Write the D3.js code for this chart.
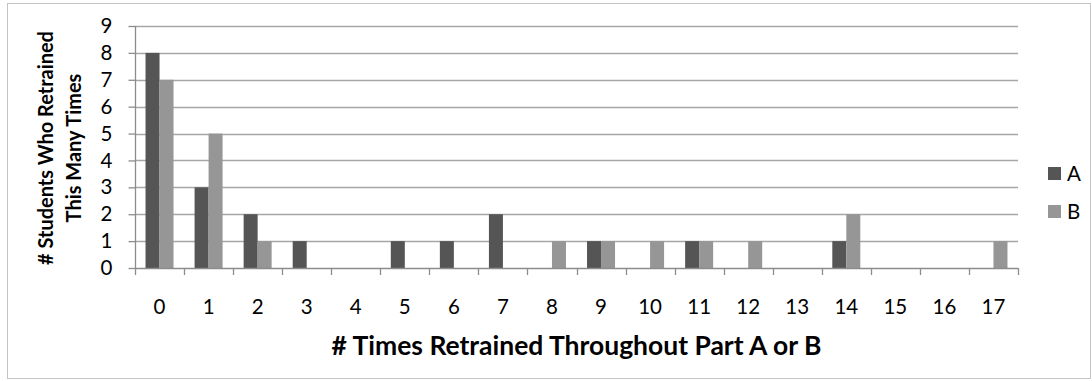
<!DOCTYPE html>
<html>
<head>
<meta charset="utf-8">
<script src="https://cdn.jsdelivr.net/npm/d3@7"></script>
<style>
  html, body { margin: 0; padding: 0; background: #fff; }
  svg { display: block; font-family: Lato, "Open Sans", sans-serif; }
</style>
</head>
<body>
<svg id="chart" width="1092" height="381"></svg>
<script>
// Number of retrains per student, counted for Part A and Part B
const categories = ["0","1","2","3","4","5","6","7","8","9","10","11","12","13","14","15","16","17"];
const seriesA = [8, 3, 2, 1, 0, 1, 1, 2, 0, 1, 0, 1, 0, 0, 1, 0, 0, 0];
const seriesB = [7, 5, 1, 0, 0, 0, 0, 0, 1, 1, 1, 1, 1, 0, 2, 0, 0, 1];
const seriesNames = ["A", "B"];
const yTicks = [0, 1, 2, 3, 4, 5, 6, 7, 8, 9];

const svg = d3.select("#chart");
const plot = { left: 135, right: 1018, top: 26, bottom: 268 };
const colors = ["#555555", "#969696"];
const axisColor = "#8c8c8c";
const FONT = "Lato, 'Open Sans', sans-serif";
const TICK_SIZE = 20.5;

// fit a text element's font size so that its length is the wanted width
function fitWidth(sel, width) {
  const base = 20;
  sel.attr("font-size", base);
  const len = sel.node().getComputedTextLength();
  sel.attr("font-size", base * width / len);
}

// outer frame
svg.append("rect")
  .attr("x", 7.5).attr("y", 3.5)
  .attr("width", 1083).attr("height", 375)
  .attr("fill", "#fff").attr("stroke", "#c4c4c4").attr("stroke-width", 1);

const x = d3.scaleBand().domain(categories).range([plot.left, plot.right]);
const y = d3.scaleLinear().domain([0, 9]).range([plot.bottom, plot.top]);
const inner = d3.scaleBand().domain(seriesNames).range([0, 28]);
const groupOffset = (x.bandwidth() - 28) / 2;

// horizontal gridlines
svg.append("g").selectAll("line").data(yTicks.filter(d => d > 0)).join("line")
  .attr("x1", plot.left).attr("x2", plot.right)
  .attr("y1", d => Math.round(y(d)) + 0.5).attr("y2", d => Math.round(y(d)) + 0.5)
  .attr("stroke", "#a6a6a6").attr("stroke-width", 1.3);

// bars
const rows = categories.map((c, i) => ({ c, values: [seriesA[i], seriesB[i]] }));
const groups = svg.append("g").selectAll("g").data(rows).join("g")
  .attr("transform", d => `translate(${x(d.c) + groupOffset},0)`);
groups.selectAll("rect").data(d => d.values.map((v, k) => ({ v, k })).filter(e => e.v > 0)).join("rect")
  .attr("x", d => inner(seriesNames[d.k]))
  .attr("width", inner.bandwidth())
  .attr("y", d => y(d.v))
  .attr("height", d => y(0) - y(d.v))
  .attr("fill", d => colors[d.k]);

// y axis
const yAxis = svg.append("g").attr("transform", `translate(${plot.left + 0.5},0)`)
  .attr("font-size", TICK_SIZE).attr("font-family", FONT)
  .call(d3.axisLeft(y).tickValues(yTicks).tickSize(7).tickPadding(16).tickFormat(d3.format("d")));
yAxis.attr("font-size", TICK_SIZE).attr("font-family", FONT);
yAxis.select(".domain").attr("stroke", axisColor).attr("stroke-width", 1.3).attr("d", `M0,${plot.top}V${plot.bottom}`);
yAxis.selectAll(".tick line").attr("stroke", axisColor).attr("stroke-width", 1.3);
yAxis.selectAll(".tick text").style("font-size", TICK_SIZE + "px").attr("fill", "#000");

// x axis
const xAxis = svg.append("g").attr("transform", `translate(0,${plot.bottom + 0.5})`)
  .call(d3.axisBottom(x).tickSize(0).tickPadding(31));
xAxis.attr("font-size", TICK_SIZE).attr("font-family", FONT);
xAxis.select(".domain").attr("stroke", axisColor).attr("stroke-width", 1.3).attr("d", `M${plot.left},0H${plot.right}`);
xAxis.selectAll(".tick text").style("font-size", TICK_SIZE + "px").attr("fill", "#000");
// tick marks on category boundaries
const bounds = categories.map(c => x(c)).concat([plot.right]);
svg.append("g").selectAll("line").data(bounds).join("line")
  .attr("x1", d => Math.round(d) + 0.5).attr("x2", d => Math.round(d) + 0.5)
  .attr("y1", plot.bottom).attr("y2", plot.bottom + 7)
  .attr("stroke", axisColor).attr("stroke-width", 1.3);

// axis titles
const xt = svg.append("text")
  .attr("x", (plot.left + plot.right) / 2).attr("y", 355)
  .attr("text-anchor", "middle").attr("font-weight", "bold")
  .text("# Times Retrained Throughout Part A or B");
fitWidth(xt, 490);

const yt = svg.append("g").attr("transform", `translate(0,${(plot.top + plot.bottom) / 2 + 1}) rotate(-90)`);
const yt1 = yt.append("text").attr("x", 0).attr("y", 53)
  .attr("text-anchor", "middle").attr("font-weight", "bold")
  .text("# Students Who Retrained");
fitWidth(yt1, 234);
const yt2 = yt.append("text").attr("x", 0).attr("y", 81)
  .attr("text-anchor", "middle").attr("font-weight", "bold")
  .attr("font-size", yt1.attr("font-size"))
  .text("This Many Times");

// legend
const legend = svg.append("g").selectAll("g").data(seriesNames).join("g")
  .attr("transform", (d, i) => `translate(1048,${167 + i * 38})`);
legend.append("rect").attr("width", 13).attr("height", 13).attr("fill", (d, i) => colors[i]);
legend.append("text").attr("x", 19).attr("y", 14).attr("font-size", TICK_SIZE).text(d => d);
</script>
</body>
</html>
